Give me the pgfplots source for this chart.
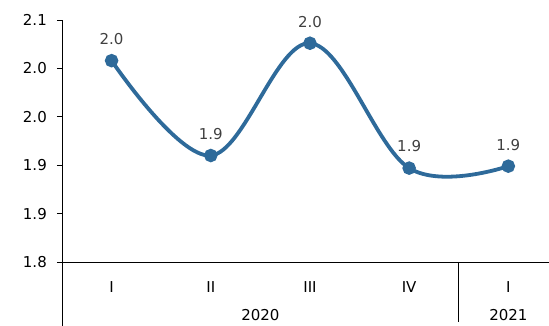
\documentclass[border=0pt]{standalone}
\usepackage{fontspec}
\setmainfont{DejaVu Sans}
\usepackage{pgfplots}
\pgfplotsset{compat=1.18}
\definecolor{lineblue}{HTML}{2E6A9A}
\definecolor{labelgrey}{HTML}{404040}
\newcommand{\chartfont}{\fontsize{15}{17}\selectfont}
\begin{document}
\begin{tikzpicture}
\path[use as bounding box] (-62pt,-64pt) rectangle (487pt,262pt);
\begin{axis}[
  at={(0,0)}, anchor=south west,
  scale only axis,
  width=487pt, height=242pt,
  xmin=-0.5, xmax=4.41,
  ymin=1.8, ymax=2.05,
  clip=false,
  axis lines=left,
  axis line style={-, line width=0.8pt, black},
  xtick={0,1,2,3,4},
  xticklabels={I,II,III,IV,I},
  major x tick style={draw=none},
  xticklabel style={anchor=base, yshift=-26pt, font=\chartfont},
  ytick={1.8,1.85,1.9,1.95,2.0,2.05},
  yticklabels={1.8,1.9,1.9,2.0,2.0,2.1},
  tick align=outside,
  major tick length=5pt,
  major y tick style={line width=0.8pt, black},
  yticklabel style={anchor=east, inner sep=0pt, xshift=-10pt, font=\chartfont},
  /pgf/number format/assume math mode=true,
  nodes near coords,
  point meta=y,
  nodes near coords style={
    anchor=south, inner sep=0pt, yshift=14pt,
    text=labelgrey, font=\chartfont,
    /pgf/number format/.cd, fixed, fixed zerofill, precision=1},
]
\addplot[lineblue, line width=3.8pt, smooth, tension=0.6,
  mark=*, mark size=4.8pt, mark options={solid, fill=lineblue, draw=none}]
  coordinates {(0,2.008) (1,1.910) (2,2.026) (3,1.897) (4,1.899)};
% group separators below the category axis
\draw[line width=0.8pt] (axis cs:-0.5,1.8) -- ++(0pt,-64pt);
\draw[line width=0.8pt] (axis cs:3.5,1.8) -- ++(0pt,-60pt);
% year labels
\node[anchor=base, font=\chartfont] at ([yshift=-59pt]axis cs:1.5,1.8) {2020};
\node[anchor=base, font=\chartfont] at ([yshift=-59pt]axis cs:4,1.8) {2021};
\end{axis}
\end{tikzpicture}
\end{document}
